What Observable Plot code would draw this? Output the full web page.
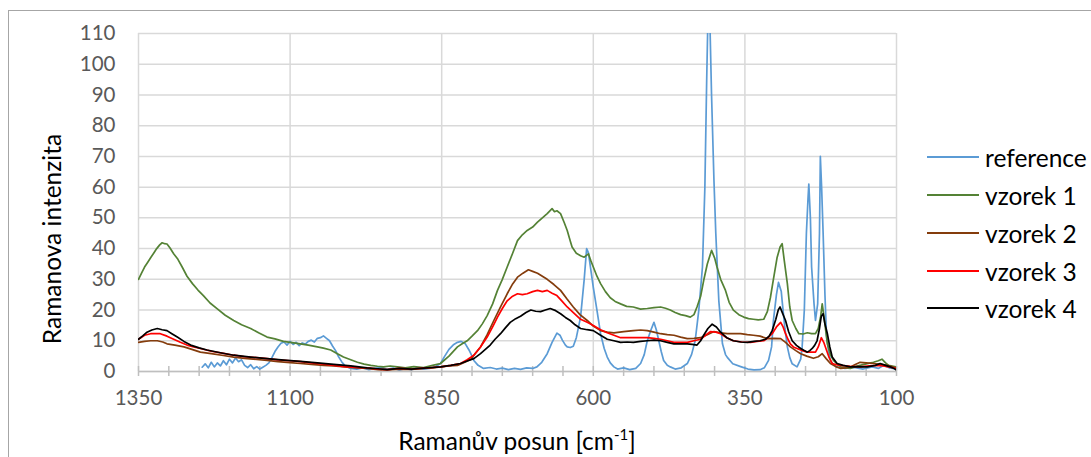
<!DOCTYPE html>
<html>
<head>
<meta charset="utf-8">
<script src="https://cdn.jsdelivr.net/npm/d3@7"></script>
<script src="https://cdn.jsdelivr.net/npm/@observablehq/plot@0.6"></script>
<style>
  html, body { margin: 0; padding: 0; background: #fff; overflow: hidden; }
  body { width: 1091px; height: 457px; position: relative; font-family: Lato, "Open Sans", sans-serif; }
  #frame { position: absolute; left: 8px; top: 10px; width: 1100px; height: 470px; border: 1px solid #a6a6a6; box-sizing: border-box; }
  #chart { position: absolute; left: 0; top: 0; }
  #ytitle { position: absolute; left: 51px; top: 239px; transform: translate(-50%, -50%) rotate(-90deg); font-size: 24.5px; color: #000; white-space: nowrap; }
  #xtitle { position: absolute; left: 517px; top: 440px; transform: translate(-50%, -50%); font-size: 24.5px; color: #000; white-space: nowrap; }
  #xtitle sup { font-size: 15px; vertical-align: 10px; line-height: 0; }
  #legend { position: absolute; left: 927px; top: 0; }
  .item { position: absolute; left: 0; height: 30px; display: flex; align-items: center; white-space: nowrap; font-size: 24.5px; color: #000; }
  .item svg { margin-right: 6px; }
</style>
</head>
<body>
<div id="frame"></div>
<div id="chart"></div>
<div id="ytitle">Ramanova intenzita</div>
<div id="xtitle">Ramanův posun [cm<sup>-1</sup>]</div>
<div id="legend"></div>
<script>
// ---- data ----
const seriesNames = ["reference", "vzorek 1", "vzorek 2", "vzorek 3", "vzorek 4"];
const seriesColors = ["#5b9bd5", "#548235", "#843c0c", "#ff0000", "#000000"];
const xTicksMajor = [1350, 1100, 850, 600, 350, 100];
const xTicksMinor = [1350,1300,1250,1200,1150,1100,1050,1000,950,900,850,800,750,700,650,600,550,500,450,400,350,300,250,200,150,100];
const yTicks = [0,10,20,30,40,50,60,70,80,90,100,110];

const refX = [1245,1240,1235,1230,1225,1220,1215,1210,1205,1200,1195,1190,1185,1180,1175,1170,1165,1160,1155,1150,1145,1140,1135,1130,1125,1120,1115,1110,1105,1100,1095,1090,1085,1080,1075,1070,1065,1060,1055,1050,1045,1040,1035,1030,1025,1020,1015,1010,1005,1000,990,980,970,960,950,940,930,920,910,900,890,880,870,860,852,845,838,830,824,818,811,805,800,797,790,781,770,760,750,740,730,720,710,700,693,685,676,668,660,655,651,646,643,638,633,628,621,615,611,608,604,600,594,588,582,577,572,566,560,550,540,530,522,516,511,505,500,496,492,488,484,478,473,465,455,445,438,432,426,420,416,413,411,408,405,401,398,393,387,382,379,370,357,345,335,325,318,311,306,303,298,294.6,290,288.6,284,280,276,272,264,258,255.6,252,248.6,246,244.6,242,240,236,233.6,230,227,225.6,223.5,221,218,215.5,212,209,203,198,185,170,155,140,130,121,112,100];
const refY = [1.4,2.5,1.2,3.0,1.5,2.8,1.8,3.5,2.2,4.0,2.8,4.4,3.2,3.8,2.0,1.3,2.2,0.9,1.6,0.8,1.4,2.0,2.8,4.5,6.5,8.0,9.2,9.6,8.6,9.8,8.8,9.5,8.4,9.3,8.9,9.8,10.2,9.6,10.8,11.0,11.6,10.8,10.0,8.3,6.8,4.8,3.2,2.0,1.4,1.0,0.8,1.2,0.6,1.0,1.3,0.7,1.1,0.5,0.9,0.6,1.2,0.8,1.0,1.6,2.6,5.0,7.2,8.8,9.5,9.8,9.0,7.0,5.0,3.6,2.0,1.0,1.3,0.8,1.1,0.6,1.0,0.7,1.2,1.0,1.5,3.0,5.8,9.5,12.5,11.8,10.2,8.6,8.0,7.8,8.2,11.0,17.7,30,40,38.6,33,27.4,20,12.3,7.5,4.7,2.8,1.5,0.8,1.2,0.6,1.0,2.6,5.5,10,13.5,16,13.5,10,6.5,3.6,2.0,1.5,0.8,1.2,2.6,5.5,10,20,34,60,95,115,116,90,62,45,23,9,5.5,4.6,2.5,1.6,0.8,0.5,0.6,1.2,3.6,8,16.6,25,29,26,23,14,8,4.5,2.5,1.5,4,8,20,45,56,61,50,34,22,16.6,22,45,70,60,45,25,12,6.5,3.6,2,1.5,1.0,1.3,0.8,1.5,1.0,2,1.2,0.8];

const v1X = [1350,1345,1340,1335,1330,1325,1320,1315,1311,1307,1303,1298,1292,1285,1278,1270,1261,1252,1243,1232,1220,1207,1193,1180,1165,1152,1138,1125,1111,1097,1083,1070,1055,1045,1033,1022,1012,1000,989,978,967,956,946,935,923,910,896,880,865,852,838,824,815,808,800,791,783,775,766,758,750,742,733,725,717,709,700,692,684,676,672,668,664,660,654,648,643,638,635,628,621,615,608,604,600,594,588,580,572,564,555,545,534,522,511,500,489,481,473,465,456,448,440,434,429,423,418,412,405,400,396,390,382,376,369,360,352,344,336,328,319,313,308,303,297,292,288.6,285,280,276,272,266,261,254,247,240,233.6,229,225,222.5,219,214,209,204,198,192,184,176,165,150,138,130,124,118,113,107,100];
const v1Y = [30,32,34,35.5,37,38.5,40,41.2,41.9,41.6,41.5,40.2,38.3,36.5,34,31,28.6,26.5,24.7,22.3,20.4,18.3,16.6,15.2,14,12.6,11.2,10.6,9.8,9.4,9,8.6,8,7.6,7,5.8,4.7,3.8,3,2.4,2,1.7,1.5,1.8,1.5,1.2,1.6,1.3,2.0,2.6,5.0,8,9.2,10,11.5,13.3,15.5,18.2,22,26.4,30,34,38.5,42.6,44.5,45.9,47,48.6,50,51.4,52.2,53,52,52.3,51.4,48.5,45.9,42.5,40.5,38.5,37.7,37.2,38.3,36,34,31,28.6,26,24,22.8,22,21.2,21,20.3,20.5,20.8,21,20.6,20,19.2,18.5,18.2,17.7,18.5,21,24.5,29.6,35,39.4,37,34,30,26.4,22.5,20,18.5,17.7,17.2,17,16.8,17,19.5,24,30,37,40.5,41.6,36,28.6,21,16.6,14,12.3,12.2,12.6,12.3,12.3,14,18,22,17,9,5.5,3.6,2.5,1.5,1.2,1.0,1.8,2.5,3,3.5,4,2.8,2,1.8,1.5];

const v2X = [1350,1340,1330,1319,1310,1303,1290,1275,1262,1248,1230,1210,1193,1175,1155,1138,1120,1100,1083,1065,1045,1028,1010,990,973,955,940,920,900,880,865,852,838,824,812,802,794,786,775,764,753,742,733,725,716,707,700,692,684,676,665,654,643,633,622,610,600,588,577,566,550,534,522,511,500,489,478,467,456,445,434,423,412,401,390,379,369,357,346,336,325,313,302,291,283,275,266,258,248,237,229,222.5,216,209,200,192,184,176,168,160,150,138,126,115,108,100];
const v2Y = [9.5,9.8,10,10,9.6,9,8.6,8,7.2,6.3,5.8,5.2,4.7,4.3,3.9,3.6,3.2,2.9,2.6,2.3,2.0,1.8,1.5,1.2,1.0,0.6,0.5,0.8,0.7,1.0,1.2,1.5,1.8,2,3,4,6,8,12,16.6,21,25.3,28.5,30.7,32,33.1,32.6,32,31,30,28.3,26.4,23.5,21,18.5,16.6,14.8,13.3,12.8,12.6,13,13.3,13.5,13.3,12.8,12.3,12,11.8,11.2,10.7,10.8,11,12,13,12.6,12.3,12.3,12.3,12,11.8,11.5,10.7,10.8,10.7,9.5,8,6.8,5.8,5,4.3,4.8,5.8,4.2,2.6,1.6,1,1.2,1.5,2.3,3,2.8,2.6,2.3,2,1.6,1];

const v3X = [1350,1340,1330,1314,1303,1292,1281,1270,1259,1248,1230,1210,1193,1175,1155,1138,1120,1100,1083,1065,1045,1028,1010,990,973,955,940,920,900,880,865,852,835,819,808,797,786,775,766,758,750,742,733,725,717,709,700,692,684,676,668,660,652,643,632,621,610,600,588,577,566,555,545,534,522,511,500,489,478,467,456,445,434,423,415,407,398,390,380,369,355,341,330,319,312,305,298,291,287,283,279,275,270,264,255,247,240,233.6,229,224,220,215.5,211,206,199,192,176,160,145,127,115,100];
const v3Y = [10.5,11.8,12.3,12.3,11.5,10.5,9.5,8.6,8,7.5,6.6,5.9,5.3,4.8,4.5,4.2,3.8,3.5,3.2,2.8,2.4,2,1.6,1.3,1.2,0.8,0.6,1.0,0.8,1.1,1.3,1.5,2.0,2.6,3.8,5.3,8,11.2,14.5,17.7,20.5,23,24.5,25.3,25,25.3,26,26.4,26,26.4,25.5,24.7,23,21,19,17,16,15,13.6,12.6,11.8,11,11,11,11,11,10.8,10.5,10,9.5,9.5,9.5,10,10.5,11.8,13,12.8,12.3,11,10,9.6,9.5,9.8,10,11,12.3,14.5,16,14.5,12.3,10.5,9,8,7.5,6.8,6.3,6.3,6.3,8,11,9.5,7,4.5,2.6,2.2,2,1.7,1.5,1.8,2,1.6,1];

const v4X = [1350,1343,1336,1328,1319,1311,1303,1295,1286,1275,1264,1250,1237,1215,1193,1165,1138,1110,1083,1055,1028,1000,973,955,940,920,900,880,865,852,835,819,808,797,786,778,770,762,753,745,737,728,720,711,703,695,687,679,671,662,654,646,638,630,621,610,600,588,577,566,555,544,534,522,511,500,489,478,467,456,445,437,429,423,418,411,404,397,390,380,369,357,346,335,325,316,310,305,299,295,292,289,283,278,272,265,258,252,247,243,239,235,231,227,224,221,218,214,210,206,198,188,176,162,148,135,127,118,110,104,100];
const v4Y = [10.5,11.6,12.8,13.5,14,13.6,13.3,12.3,11.2,9.8,8.6,7.7,7,6.1,5.3,4.7,4.2,3.7,3.3,2.8,2.3,1.8,1.2,0.9,0.6,1.0,0.8,1.1,1.3,1.5,2.0,2.6,3.4,4.2,5.8,7.2,8.6,10.5,12.3,14.2,16,17.2,18,19.2,20,19.6,19.5,20,20.5,19.8,18.8,17.6,16.6,15.2,14,13.6,13.3,11.8,10.5,10,9.5,9.6,9.5,9.8,10,10.2,10,9.5,9,9,9,8.8,8.6,10,11.8,14,15.4,14.5,12.8,11,10,9.6,9.5,9.8,10,10.5,11.5,13.3,17,20,21,19.5,16.6,13,10,8.5,7.5,6.8,6.3,6.8,7.5,8.5,10,14,18,18.8,15.5,12.3,8,4.7,2.6,2,1.5,1.6,1.5,2,2.6,2,1.5,1,0.5];

// ---- build table for Plot ----
const seriesX = [refX, v1X, v2X, v3X, v4X];
const seriesY = [refY, v1Y, v2Y, v3Y, v4Y];
const rows = [];
seriesNames.forEach((name, i) => {
  seriesX[i].forEach((x, j) => rows.push({series: name, shift: x, intensity: seriesY[i][j]}));
});

const gridColor = "#d9d9d9";
const textColor = "#595959";

const chart = Plot.plot({
  width: 1091,
  height: 457,
  marginLeft: 138,
  marginRight: 195,
  marginTop: 33,
  marginBottom: 86,
  style: {fontFamily: "Lato, 'Open Sans', sans-serif", fontSize: "20.5px", color: textColor, background: "transparent"},
  x: {domain: [1350, 100]},
  y: {domain: [0, 110]},
  marks: [
    Plot.gridY(yTicks, {stroke: gridColor, strokeOpacity: 1, strokeWidth: 1.5}),
    Plot.gridX(xTicksMajor, {stroke: gridColor, strokeOpacity: 1, strokeWidth: 1.5}),
    Plot.ruleY([0], {stroke: "#bfbfbf", strokeWidth: 1.5}),
    // cross tick marks at every 50
    Plot.axisX(xTicksMinor, {
      anchor: "bottom", tickSize: 10, dy: -5, stroke: "#bfbfbf", strokeWidth: 1.5,
      tickFormat: () => "", label: null
    }),
    // labels at major ticks
    Plot.axisX(xTicksMajor, {
      anchor: "bottom", tickSize: 0, tickPadding: 19, fill: textColor,
      tickFormat: d => String(d), label: null
    }),
    Plot.axisY(yTicks, {anchor: "left", tickSize: 0, tickPadding: 23, fill: textColor, label: null}),
    ...seriesNames.map((name, i) =>
      Plot.line(rows.filter(r => r.series === name), {
        x: "shift", y: "intensity", stroke: seriesColors[i], strokeWidth: 1.7, clip: true
      })
    )
  ]
});
document.getElementById("chart").appendChild(chart);

// legend
const legendTops = [157, 195, 233, 271, 308];
const legend = document.getElementById("legend");
seriesNames.forEach((name, i) => {
  const div = document.createElement("div");
  div.className = "item";
  div.style.top = (legendTops[i] - 15) + "px";
  div.innerHTML = `<svg width="52" height="4"><line x1="0" y1="2" x2="52" y2="2" stroke="${seriesColors[i]}" stroke-width="2.2"/></svg><span>${name}</span>`;
  legend.appendChild(div);
});
</script>
</body>
</html>
